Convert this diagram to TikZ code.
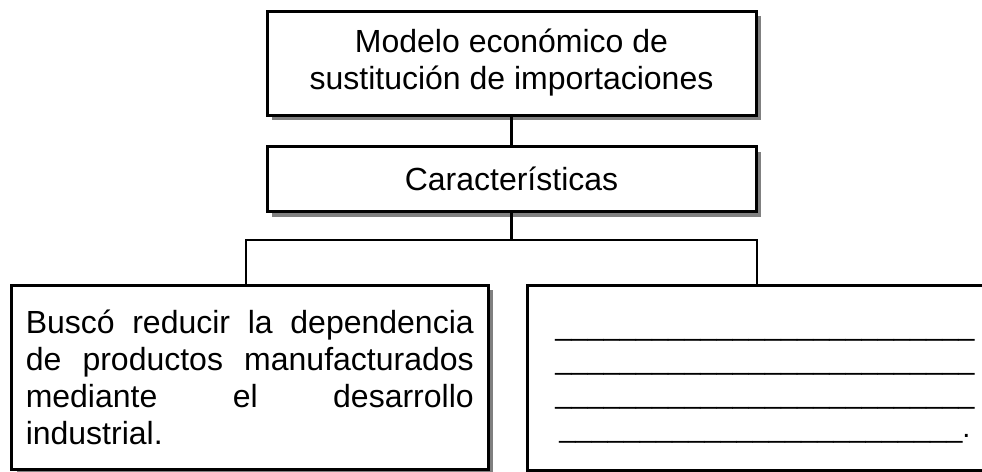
\documentclass[tikz,border=0pt]{standalone}
\usepackage{fontspec}
\setmainfont{Liberation Sans}
\usetikzlibrary{shadows,positioning}
\tikzset{caja/.style={rectangle,draw=black,line width=3pt,fill=white,
  drop shadow={shadow xshift=5pt,shadow yshift=-5pt,fill=gray,opacity=1}}}
\tikzset{conector/.style={draw=black,line width=2.5pt}}
\newcommand{\rayas}[1]{\foreach \i in {1,...,#1}{\_}}

\begin{document}
\begin{tikzpicture}[x=1pt,y=-1pt,font=\fontsize{32}{37}\selectfont]
\useasboundingbox (0,0) rectangle (982,471);
% \draw[help lines,step=50] (0,0) grid (982,471);
\node (modelo) [caja,minimum width=489pt,minimum height=104pt,align=center] at (511.5,63) {Modelo económico de\\sustitución de importaciones};
\node (caract) [caja,minimum width=489pt,minimum height=65pt] at (511.5,179) {Características};
\node (izquierda) [caja,minimum width=476.5pt,minimum height=184pt,text width=448pt,align=justify,inner xsep=0pt] at (249.75,377) {\rightskip=7pt Buscó reducir la dependencia\linebreak de productos manufacturados\linebreak mediante el desarrollo\linebreak industrial.};
\node (derecha) [caja,minimum width=476pt,minimum height=185pt,align=center,font=\fontsize{29}{34}\selectfont] at (765,377.5) {\rule{0pt}{24pt}\rayas{26}\\\rayas{26}\\\rayas{26}\\\rayas{25}.};
%
\coordinate (centro) at (511.5,240);
\coordinate (izq) at (246,240);
\coordinate (der) at (757,240);
%
\path[conector] (modelo) edge (caract);
\path[conector] (caract) edge (centro);
\draw[conector] (izquierda.north -| izq) -- (izq) -- (der) -- (derecha.north -| der);
\end{tikzpicture}
\end{document}
